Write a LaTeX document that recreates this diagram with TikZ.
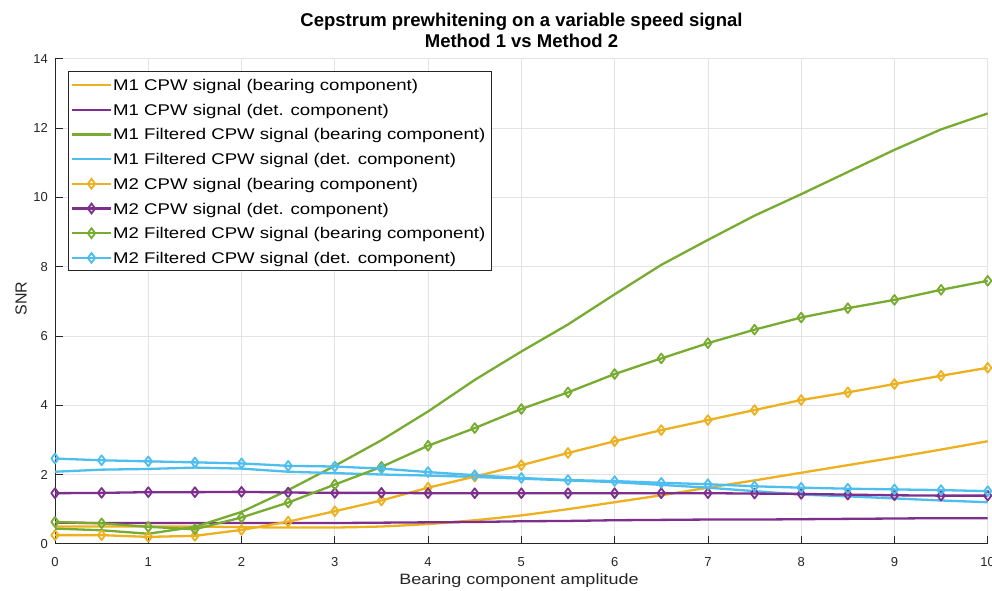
\documentclass[tikz,border=0pt]{standalone}
\usepackage{graphicx}
\usepackage{fontspec}
\setmainfont{Liberation Sans}
\usetikzlibrary{plotmarks}
\definecolor{cy}{HTML}{EDB120}
\definecolor{cp}{HTML}{7E2F8E}
\definecolor{cg}{HTML}{77AC30}
\definecolor{cb}{HTML}{4DBEEE}
\definecolor{axc}{HTML}{262626}
\definecolor{gridc}{HTML}{E3E3E3}
\newcommand\hstretch[1]{\scalebox{1.2}[1]{#1}}
\tikzset{
  dline/.style={line width=2.3pt, line join=round},
  mk/.style={mark=diamond, mark size=4.9pt, mark options={solid, line width=1.8pt}},
  ticklab/.style={font=\fontsize{13}{15}\selectfont, text=axc, inner sep=0pt},
  legtext/.style={font=\fontsize{15.5}{18}\selectfont, text=black, inner sep=0pt, anchor=base west},
  gridline/.style={draw=gridc, line width=0.7pt},
}
\begin{document}
\begin{tikzpicture}[x=1pt,y=1pt]
\useasboundingbox (0,0) rectangle (992,590);
\fill[white] (0,0) rectangle (992,590);
\begin{scope}[shift={(55,46.2)}, x=93.27pt, y=34.65pt]
  % grid
  \foreach \i in {1,...,10} \draw[gridline] (\i,0) -- (\i,14);
  \foreach \j in {2,4,...,14} \draw[gridline] (0,\j) -- (10,\j);
  % axes
  \draw[axc, line width=0.8pt] (0,14) -- (0,0) -- (10,0);
  \foreach \i in {0,...,10} \draw[axc, line width=0.8pt] (\i,0) -- ++(0,8pt);
  \foreach \j in {0,2,...,14} \draw[axc, line width=0.8pt] (0,\j) -- ++(8pt,0);
  \foreach \i in {0,...,10} \node[ticklab, anchor=base] (xt\i) at ([yshift=-22.7pt]\i,0) {\i};
  \foreach \j in {0,2,...,14} \node[ticklab, anchor=east] (yt\j) at ([xshift=-7pt]0,\j) {\j};

  % M1 CPW bearing
  \draw[dline, cy] plot[smooth, tension=0.3] coordinates {(0,0.5) (0.5,0.5) (1,0.5) (1.5,0.5) (2,0.48) (2.5,0.47) (3,0.47) (3.5,0.5) (4,0.57) (4.5,0.68) (5,0.82) (5.5,1.0) (6,1.2) (6.5,1.4) (7,1.62) (7.5,1.83) (8,2.05) (8.5,2.27) (9,2.49) (9.5,2.72) (10,2.96)};
  % M1 CPW det
  \draw[dline, cp] plot[smooth, tension=0.3] coordinates {(0,0.61) (0.5,0.6) (1,0.6) (1.5,0.6) (2,0.6) (2.5,0.6) (3,0.6) (3.5,0.61) (4,0.62) (4.5,0.63) (5,0.65) (5.5,0.66) (6,0.68) (6.5,0.69) (7,0.7) (7.5,0.7) (8,0.71) (8.5,0.72) (9,0.73) (9.5,0.74) (10,0.74)};
  % M1 Filtered bearing
  \draw[dline, cg] plot coordinates {(0,0.44) (0.5,0.39) (1,0.29) (1.5,0.49) (2,0.92) (2.5,1.55) (3,2.25) (3.5,2.99) (4,3.82) (4.5,4.73) (5,5.55) (5.5,6.33) (6,7.2) (6.5,8.05) (7,8.77) (7.5,9.47) (8,10.09) (8.5,10.73) (9,11.37) (9.5,11.96) (10,12.42)};
  % M1 Filtered det
  \draw[dline, cb] plot coordinates {(0,2.08) (0.5,2.14) (1,2.16) (1.5,2.2) (2,2.17) (2.5,2.08) (3,2.04) (3.5,2.0) (4,1.97) (4.5,1.93) (5,1.88) (5.5,1.83) (6,1.78) (6.5,1.7) (7,1.62) (7.5,1.52) (8,1.42) (8.5,1.37) (9,1.31) (9.5,1.25) (10,1.2)};
  % M2 CPW bearing
  \draw[dline, cy] plot[mk] coordinates {(0,0.25) (0.5,0.25) (1,0.2) (1.5,0.23) (2,0.4) (2.5,0.64) (3,0.94) (3.5,1.25) (4,1.62) (4.5,1.94) (5,2.27) (5.5,2.62) (6,2.96) (6.5,3.28) (7,3.57) (7.5,3.86) (8,4.15) (8.5,4.37) (9,4.61) (9.5,4.85) (10,5.08)};
  % M2 CPW det
  \draw[dline, cp] plot[mk] coordinates {(0,1.46) (0.5,1.47) (1,1.49) (1.5,1.49) (2,1.5) (2.5,1.48) (3,1.47) (3.5,1.47) (4,1.46) (4.5,1.46) (5,1.46) (5.5,1.46) (6,1.46) (6.5,1.46) (7,1.46) (7.5,1.45) (8,1.44) (8.5,1.42) (9,1.4) (9.5,1.39) (10,1.39)};
  % M2 Filtered bearing
  \draw[dline, cg] plot[mk] coordinates {(0,0.63) (0.5,0.59) (1,0.49) (1.5,0.42) (2,0.76) (2.5,1.19) (3,1.71) (3.5,2.22) (4,2.83) (4.5,3.34) (5,3.89) (5.5,4.37) (6,4.9) (6.5,5.35) (7,5.79) (7.5,6.18) (8,6.53) (8.5,6.8) (9,7.04) (9.5,7.33) (10,7.59)};
  % M2 Filtered det
  \draw[dline, cb] plot[mk] coordinates {(0,2.46) (0.5,2.41) (1,2.38) (1.5,2.35) (2,2.32) (2.5,2.25) (3,2.23) (3.5,2.17) (4,2.07) (4.5,1.98) (5,1.9) (5.5,1.84) (6,1.81) (6.5,1.76) (7,1.72) (7.5,1.66) (8,1.62) (8.5,1.59) (9,1.57) (9.5,1.55) (10,1.52)};
\end{scope}

% title
\node[font=\fontsize{18.5}{22}\selectfont\bfseries, text=black, anchor=base, inner sep=0pt] (title1) at (521.5,563.5) {Cepstrum prewhitening on a variable speed signal};
\node[font=\fontsize{18.5}{22}\selectfont\bfseries, text=black, anchor=base, inner sep=0pt] (title2) at (521.5,542.5) {Method 1 vs Method 2};
% axis labels
\node[font=\fontsize{15}{18}\selectfont, text=axc, anchor=base, inner sep=0pt] (xlab) at (519,6) {\hstretch{Bearing component amplitude}};
\node[font=\fontsize{16}{19}\selectfont, text=axc, rotate=90, inner sep=0pt] (ylab) at (21,291.5) {SNR};

% legend
\draw[draw=axc, fill=white, line width=0.8pt] (68,518.3) rectangle (491.7,320) ;
\foreach \k/\c/\m/\t in {
  0/cy/0/{M1 CPW signal (bearing component)},
  1/cp/0/{M1 CPW signal (det. component)},
  2/cg/0/{M1 Filtered CPW signal (bearing component)},
  3/cb/0/{M1 Filtered CPW signal (det. component)},
  4/cy/1/{M2 CPW signal (bearing component)},
  5/cp/1/{M2 CPW signal (det. component)},
  6/cg/1/{M2 Filtered CPW signal (bearing component)},
  7/cb/1/{M2 Filtered CPW signal (det. component)}}{
  \pgfmathsetmacro\yy{590-85-24.7*\k}
  \draw[dline, \c] (72,\yy) -- (111,\yy);
  \ifnum\m=1 \draw[\c] plot[mk] coordinates {(91.5,\yy)}; \fi
  \node[legtext] (leg\k) at (113,\yy-5.6) {\hstretch{\t}};
}
\end{tikzpicture}
\end{document}
